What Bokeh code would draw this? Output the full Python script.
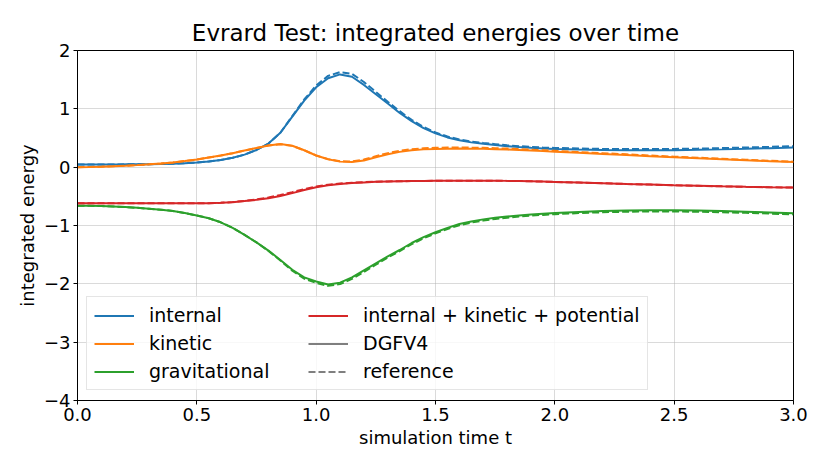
from bokeh.plotting import figure
from bokeh.models import Legend, LegendItem, CustomJSTickFormatter, FixedTicker, Range1d
from bokeh.embed import file_html
from bokeh.resources import INLINE

t = [0.00, 0.05, 0.10, 0.15, 0.20, 0.25, 0.30, 0.35, 0.40, 0.45,
     0.50, 0.55, 0.60, 0.65, 0.70, 0.75, 0.80, 0.85, 0.90, 0.95,
     1.00, 1.05, 1.10, 1.15, 1.20, 1.25, 1.30, 1.35, 1.40, 1.45,
     1.50, 1.55, 1.60, 1.65, 1.70, 1.75, 1.80, 1.85, 1.90, 1.95,
     2.0, 2.1, 2.2, 2.3, 2.4, 2.5, 2.6, 2.7, 2.8, 2.9, 3.0]

internal = [0.045, 0.045, 0.046, 0.047, 0.048, 0.050, 0.052, 0.055, 0.060, 0.068,
            0.080, 0.097, 0.122, 0.160, 0.215, 0.295, 0.405, 0.590, 0.865, 1.14,
            1.37, 1.525, 1.59, 1.55, 1.41, 1.25, 1.09, 0.93, 0.79, 0.67,
            0.58, 0.51, 0.46, 0.425, 0.40, 0.38, 0.36, 0.345, 0.333, 0.322,
            0.313, 0.302, 0.295, 0.291, 0.290, 0.292, 0.297, 0.305, 0.315, 0.326, 0.338]
internal_ref = [0.045, 0.045, 0.046, 0.047, 0.048, 0.050, 0.052, 0.055, 0.060, 0.068,
                0.080, 0.097, 0.122, 0.160, 0.215, 0.295, 0.405, 0.590, 0.875, 1.16,
                1.40, 1.565, 1.63, 1.60, 1.46, 1.29, 1.12, 0.96, 0.81, 0.69,
                0.595, 0.525, 0.475, 0.44, 0.415, 0.395, 0.375, 0.36, 0.348, 0.338,
                0.33, 0.32, 0.313, 0.31, 0.31, 0.313, 0.318, 0.327, 0.337, 0.348, 0.36]
kinetic = [0.000, 0.003, 0.008, 0.015, 0.024, 0.035, 0.048, 0.063, 0.082, 0.105,
           0.130, 0.165, 0.200, 0.240, 0.285, 0.330, 0.372, 0.398, 0.368, 0.29,
           0.20, 0.135, 0.095, 0.088, 0.115, 0.170, 0.222, 0.262, 0.290, 0.305,
           0.313, 0.317, 0.318, 0.317, 0.314, 0.309, 0.302, 0.294, 0.285, 0.275,
           0.265, 0.246, 0.227, 0.208, 0.189, 0.171, 0.153, 0.136, 0.119, 0.103, 0.087]
kinetic_ref = [0.000, 0.003, 0.008, 0.015, 0.024, 0.035, 0.048, 0.063, 0.082, 0.105,
               0.130, 0.165, 0.200, 0.240, 0.285, 0.330, 0.370, 0.392, 0.365, 0.29,
               0.20, 0.138, 0.10, 0.098, 0.13, 0.188, 0.24, 0.28, 0.308, 0.323,
               0.332, 0.336, 0.337, 0.335, 0.331, 0.325, 0.318, 0.309, 0.30, 0.29,
               0.28, 0.26, 0.24, 0.22, 0.20, 0.18, 0.162, 0.144, 0.127, 0.11, 0.094]
gravitational = [-0.660, -0.662, -0.667, -0.674, -0.684, -0.697, -0.713, -0.730, -0.750, -0.787,
                 -0.830, -0.875, -0.945, -1.040, -1.160, -1.290, -1.430, -1.590, -1.760, -1.890,
                 -1.960, -2.010, -1.980, -1.890, -1.770, -1.650, -1.530, -1.420, -1.300, -1.200,
                 -1.115, -1.040, -0.975, -0.930, -0.895, -0.868, -0.846, -0.827, -0.811, -0.798,
                 -0.786, -0.767, -0.753, -0.744, -0.740, -0.740, -0.744, -0.752, -0.763, -0.776, -0.790]
gravitational_ref = [-0.660, -0.662, -0.667, -0.674, -0.684, -0.697, -0.713, -0.730, -0.750, -0.787,
                     -0.830, -0.875, -0.945, -1.040, -1.160, -1.290, -1.435, -1.600, -1.775, -1.910,
                     -1.985, -2.035, -2.005, -1.915, -1.795, -1.672, -1.550, -1.440, -1.320, -1.220,
                     -1.135, -1.060, -0.995, -0.950, -0.915, -0.888, -0.866, -0.847, -0.831, -0.818,
                     -0.806, -0.787, -0.773, -0.764, -0.760, -0.760, -0.764, -0.772, -0.783, -0.796, -0.810]
total = [-0.62, -0.62, -0.62, -0.62, -0.62, -0.62, -0.62, -0.62, -0.62, -0.62,
         -0.62, -0.618, -0.612, -0.600, -0.582, -0.56, -0.532, -0.495, -0.445, -0.392,
         -0.345, -0.31, -0.288, -0.273, -0.261, -0.252, -0.246, -0.241, -0.238, -0.236,
         -0.234, -0.233, -0.232, -0.232, -0.232, -0.233, -0.235, -0.238, -0.242, -0.247,
         -0.253, -0.264, -0.276, -0.288, -0.299, -0.31, -0.32, -0.329, -0.337, -0.344, -0.35]
total_ref = [-0.62, -0.62, -0.62, -0.62, -0.62, -0.62, -0.62, -0.62, -0.62, -0.62,
             -0.62, -0.618, -0.611, -0.598, -0.578, -0.552, -0.52, -0.478, -0.428, -0.376,
             -0.332, -0.30, -0.28, -0.267, -0.257, -0.25, -0.245, -0.241, -0.238, -0.236,
             -0.234, -0.233, -0.232, -0.232, -0.232, -0.233, -0.235, -0.238, -0.242, -0.247,
             -0.253, -0.264, -0.276, -0.288, -0.299, -0.31, -0.32, -0.329, -0.337, -0.344, -0.35]

x_ticks = [0.0, 0.5, 1.0, 1.5, 2.0, 2.5, 3.0]
y_ticks = [-4, -3, -2, -1, 0, 1, 2]

names = ["internal", "kinetic", "gravitational", "internal + kinetic + potential"]
colors = ["#1f77b4", "#ff7f0e", "#2ca02c", "#d62728"]
series = [internal, kinetic, gravitational, total]
series_ref = [internal_ref, kinetic_ref, gravitational_ref, total_ref]
style_names = ["DGFV4", "reference"]

FONT = "DejaVu Sans"
DASH = "7 3"

p = figure(width=814, height=455, output_backend="svg", toolbar_location=None,
           x_range=Range1d(0, 3), y_range=Range1d(-4, 2),
           min_border_left=77, min_border_right=21, min_border_top=50, min_border_bottom=55,
           title="Evrard Test: integrated energies over time")
p.title.text_font = FONT
p.title.text_font_size = "23px"
p.title.text_font_style = "normal"
p.title.align = "center"
p.title.text_color = "black"

p.outline_line_color = "black"
p.outline_line_width = 1
p.background_fill_color = "white"
p.border_fill_color = "white"

for ax in (p.xaxis[0], p.yaxis[0]):
    ax.major_label_text_font = FONT
    ax.major_label_text_font_size = "18px"
    ax.major_label_text_color = "black"
    ax.axis_label_text_font = FONT
    ax.axis_label_text_font_size = "18px"
    ax.axis_label_text_font_style = "normal"
    ax.axis_label_text_color = "black"
    ax.minor_tick_line_color = None
    ax.major_tick_out = 4
    ax.major_tick_in = 0
    ax.major_tick_line_color = "black"
    ax.axis_line_color = "black"
    ax.major_label_standoff = 3
    ax.axis_label_standoff = 3

p.xaxis.axis_label = "simulation time t"
p.yaxis.axis_label = "integrated energy"
p.xaxis.ticker = FixedTicker(ticks=x_ticks)
p.yaxis.ticker = FixedTicker(ticks=y_ticks)
p.xaxis.formatter = CustomJSTickFormatter(code="return tick.toFixed(1).replace('-', '\u2212');")
p.yaxis.formatter = CustomJSTickFormatter(code="return tick.toFixed(0).replace('-', '\u2212');")

p.grid.grid_line_color = "#b0b0b0"
p.grid.grid_line_width = 0.8
p.grid.grid_line_alpha = 0.6

items = []
for name, c, s, sr in zip(names, colors, series, series_ref):
    r = p.line(t, s, line_color=c, line_width=2)
    p.line(t, sr, line_color=c, line_width=2, line_dash=DASH)
    items.append(LegendItem(label=name, renderers=[r]))

nan = float("nan")
g1 = p.line([nan], [nan], line_color="#7f7f7f", line_width=2)
g2 = p.line([nan], [nan], line_color="#7f7f7f", line_width=2, line_dash=DASH)
items.append(LegendItem(label=style_names[0], renderers=[g1]))
items.append(LegendItem(label=style_names[1], renderers=[g2]))

legend = Legend(items=items, location=(9, 10), ncols=2)
legend.label_text_font = FONT
legend.label_text_font_size = "19px"
legend.label_text_color = "black"
legend.label_height = 21
legend.glyph_height = 21
legend.glyph_width = 40
legend.label_width = 153
legend.label_standoff = 15
legend.spacing = 6
legend.padding = 7
legend.margin = 0
legend.border_line_color = "#cccccc"
legend.border_line_width = 1
legend.background_fill_alpha = 0.8
p.add_layout(legend)

open("out.html", "w").write(file_html(p, INLINE))
